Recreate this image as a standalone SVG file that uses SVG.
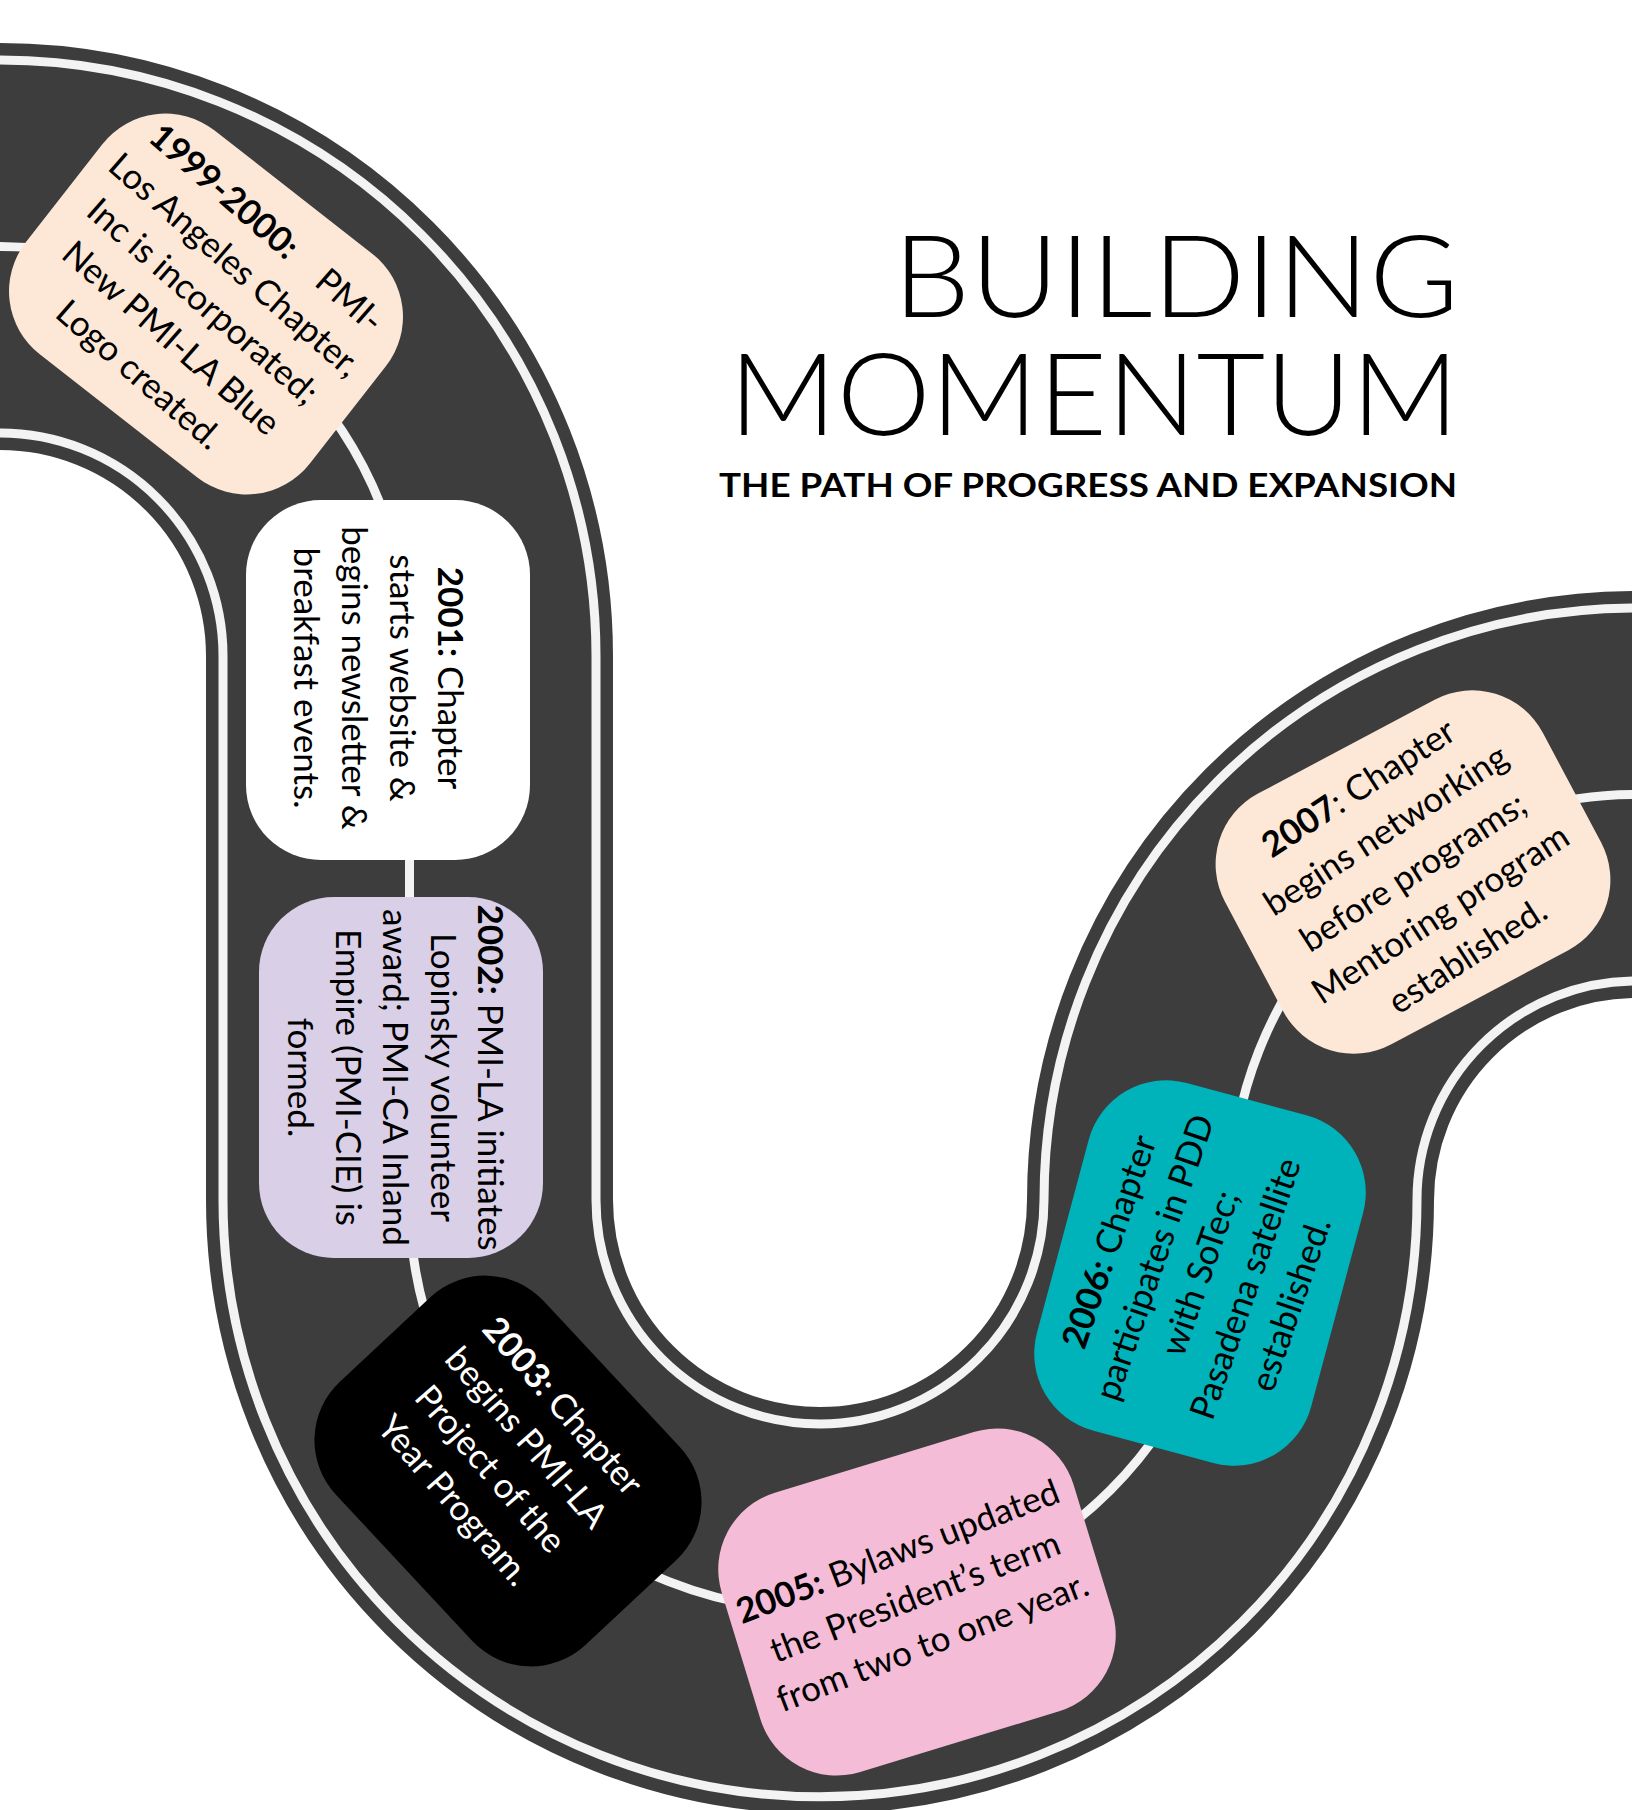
<svg xmlns="http://www.w3.org/2000/svg" width="1632" height="1810" viewBox="0 0 1632 1810">
<style>
.road{fill:none;stroke:#3d3d3d;stroke-width:407}
.lane{fill:none;stroke:#f3f3f3;stroke-width:9}
.t{font-family:Lato,"Liberation Sans",sans-serif;font-size:35px;text-anchor:middle;fill:#000}
.b{font-weight:700}
.wt{fill:#fff}
.title{font-family:Lato,"Liberation Sans",sans-serif;font-weight:300;font-size:114px;fill:#000}
.sub{font-family:Lato,"Liberation Sans",sans-serif;font-weight:700;font-size:33px;fill:#000}
</style>
<rect width="1632" height="1810" fill="#fff"/>
<g id="road">
<path class="road" d="M 0 246.5 A 409.5 409.5 0 0 1 409.5 656 L 409.5 1200 A 410.5 410.5 0 0 0 1230.5 1200 A 405.5 405.5 0 0 1 1636 794.5"/>
<path class="lane" d="M 0 60 A 596 596 0 0 1 596 656 L 596 1200 A 224 224 0 0 0 1044 1200 A 592 592 0 0 1 1636 608"/>
<path class="lane" d="M 0 246.5 A 409.5 409.5 0 0 1 409.5 656 L 409.5 1200 A 410.5 410.5 0 0 0 1230.5 1200 A 405.5 405.5 0 0 1 1636 794.5"/>
<path class="lane" d="M 0 433 A 223 223 0 0 1 223 656 L 223 1200 A 597 597 0 0 0 1417 1200 A 219 219 0 0 1 1636 981"/>
</g>
<g id="title">
<text class="title" x="893" y="317" textLength="566" lengthAdjust="spacingAndGlyphs">BUILDING</text>
<text class="title" x="729" y="435" textLength="730" lengthAdjust="spacingAndGlyphs">MOMENTUM</text>
<text class="sub" x="719" y="497" textLength="738" lengthAdjust="spacingAndGlyphs">THE PATH OF PROGRESS AND EXPANSION</text>
</g>
<g id="n1999" transform="translate(206,304) rotate(38)">
<rect x="-180" y="-142" width="360" height="284" rx="80" fill="#fde8d7"/>
<g transform="rotate(3)">
<text class="t" x="-4" y="-85"><tspan class="b">1999-2000:</tspan>&#160;&#160;&#160;&#160;PMI-</text>
<text class="t" x="-4" y="-36.5">Los Angeles Chapter,</text>
<text class="t" x="-4" y="12">Inc is incorporated;</text>
<text class="t" x="-4" y="60.5">New PMI-LA Blue</text>
<text class="t" x="-4" y="109">Logo created.</text>
</g>
</g>
<g id="n2001">
<rect x="246" y="500" width="284" height="360" rx="75" fill="#ffffff"/>
<g transform="translate(388,680) rotate(90)">
<text class="t" x="-2" y="-50"><tspan class="b">2001:</tspan> Chapter</text>
<text class="t" x="-2" y="-2">starts website &amp;</text>
<text class="t" x="-2" y="46">begins newsletter &amp;</text>
<text class="t" x="-2" y="94">breakfast events.</text>
</g>
</g>
<g id="n2002">
<rect x="259" y="897" width="284" height="361" rx="75" fill="#d9cfe6"/>
<g transform="translate(401,1077.5) rotate(90)">
<text class="t" y="-77"><tspan class="b">2002:</tspan> PMI-LA initiates</text>
<text class="t" y="-29.5">Lopinsky volunteer</text>
<text class="t" y="18">award; PMI-CA Inland</text>
<text class="t" y="65.5">Empire (PMI-CIE) is</text>
<text class="t" y="113">formed.</text>
</g>
</g>
<g id="n2003" transform="translate(508,1471) rotate(47)">
<rect x="-180" y="-142" width="360" height="284" rx="80" fill="#000000"/>
<g transform="rotate(2)">
<text class="t wt" x="-13" y="-72"><tspan class="b">2003:</tspan> Chapter</text>
<text class="t wt" x="-13" y="-24">begins PMI-LA</text>
<text class="t wt" x="-13" y="24">Project of the</text>
<text class="t wt" x="-13" y="72">Year Program.</text>
</g>
</g>
<g id="n2005" transform="translate(917,1602) rotate(-17)">
<rect x="-184" y="-146" width="368" height="292" rx="80" fill="#f4bcd6"/>
<g transform="rotate(-4)">
<text class="t" y="-42"><tspan class="b">2005:</tspan> Bylaws updated</text>
<text class="t" y="6.5">the President’s term</text>
<text class="t" y="55">from two to one year.</text>
</g>
</g>
<g id="n2006" transform="translate(1200,1273) rotate(-75)">
<rect x="-180" y="-142" width="360" height="284" rx="80" fill="#00b2b9"/>
<g transform="rotate(4)">
<text class="t" y="-84"><tspan class="b">2006:</tspan> Chapter</text>
<text class="t" y="-36">participates in PDD</text>
<text class="t" y="12">with SoTec;</text>
<text class="t" y="60">Pasadena satellite</text>
<text class="t" y="108">established.</text>
</g>
</g>
<g id="n2007" transform="translate(1413,872) rotate(-28)">
<rect x="-180" y="-142" width="360" height="284" rx="80" fill="#fde8d7"/>
<g transform="rotate(-5)">
<text class="t" y="-88"><tspan class="b">2007</tspan>: Chapter</text>
<text class="t" y="-38">begins networking</text>
<text class="t" y="12">before programs;</text>
<text class="t" y="62">Mentoring program</text>
<text class="t" y="112">established.</text>
</g>
</g>
</svg>
